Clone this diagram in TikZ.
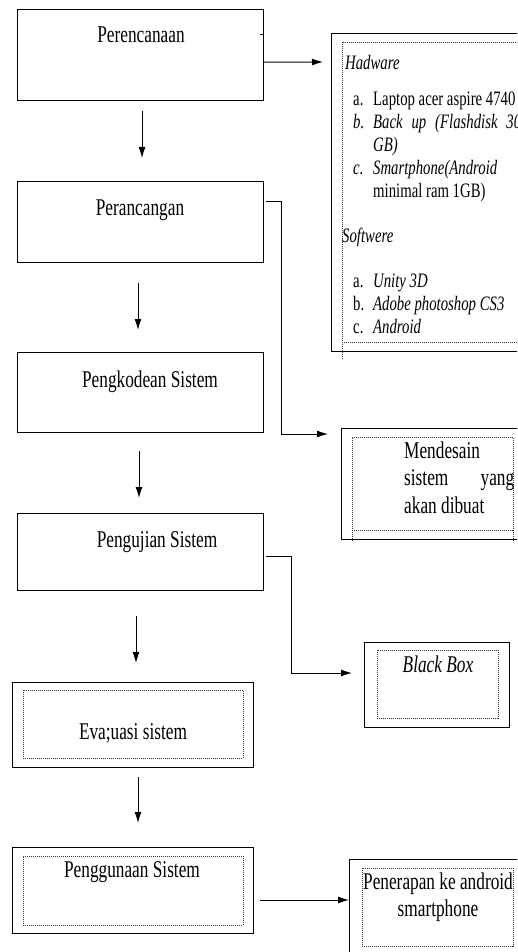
\documentclass[tikz,border=0pt]{standalone}
\usepackage{fontspec}
\setmainfont{Liberation Serif}[FakeStretch=0.72]
\usetikzlibrary{arrows.meta}
\begin{document}
\begin{tikzpicture}%
	[x=1pt,y=-1pt,
	box/.style={draw=black, line width=1pt, inner sep=0pt, outer sep=0pt},
	innerbox/.style={draw=black!80, line width=0.7pt, dash pattern=on 1pt off 1pt, inner sep=0pt, outer sep=0pt},
	dotline/.style={draw=black!80, line width=0.7pt, dash pattern=on 1pt off 1pt},
	flow/.style={line width=1pt, -{Latex[length=11pt,width=7pt]}},
	boxtext/.style={font=\fontsize{24}{27.5}\selectfont, inner sep=0pt, anchor=base},
	listtext/.style={font=\fontsize{20.5}{23}\selectfont, inner sep=0pt, anchor=base west}]
	\useasboundingbox (0,0) rectangle (517,952);
	\clip (0,0) rectangle (517,952);

	%main steps
	\node[box, minimum width=246pt, minimum height=91.5pt] (perencanaan) at (140,55.25) {};
	\node[box, minimum width=246pt, minimum height=80pt] (perancangan) at (140,222) {};
	\node[box, minimum width=246pt, minimum height=80pt] (pengkodean) at (140,392) {};
	\node[box, minimum width=246pt, minimum height=77pt] (pengujian) at (140,551.5) {};
	\node[box, minimum width=241pt, minimum height=85pt] (evaluasi) at (132.5,724.5) {};
	\node[innerbox, minimum width=220pt, minimum height=68pt] (evaluasi-in) at (133,724) {};
	\node[box, minimum width=241pt, minimum height=86pt] (penggunaan) at (132.5,890) {};
	\node[innerbox, minimum width=220pt, minimum height=69pt] (penggunaan-in) at (133,890.5) {};

	\node[boxtext] (perencanaan-t) at (141,43) {Perencanaan};
	\node[boxtext] (perancangan-t) at (140,215) {Perancangan};
	\node[boxtext] (pengkodean-t) at (150,387) {Pengkodean Sistem};
	\node[boxtext] (pengujian-t) at (157,547) {Pengujian Sistem};
	\node[boxtext] (evaluasi-t) at (133,739) {Eva;uasi sistem};
	\node[boxtext] (penggunaan-t) at (132,877) {Penggunaan Sistem};

	%side boxes
	\node[box, minimum width=209pt, minimum height=317pt] (hardware) at (435.5,192.5) {};
	\node[innerbox, minimum width=198pt, minimum height=300pt] (hardware-in) at (441,192) {};
	\draw[dotline] (hardware-in.south west) -- ++(0,18);
	\node[listtext] (hardware-t) at (342,70) {%
		\begin{tabular}[t]{@{\hspace{11pt}}p{20pt}@{}l@{}}
		\multicolumn{2}{@{\hspace{3pt}}l@{}}{\textit{Hadware}}\\[13pt]
		a. & Laptop acer aspire 4740\\
		\textit{b.} & \makebox[148pt][s]{\textit{Back up (Flashdisk 30}}\\
		 & \textit{GB)}\\
		\textit{c.} & \textit{Smartphone(Android}\\
		 & minimal ram 1GB)\\[22pt]
		\multicolumn{2}{@{}l@{}}{\textit{Softwere}}\\[22pt]
		a. & \textit{Unity 3D}\\
		b. & \textit{Adobe photoshop CS3}\\
		c. & \textit{Android}
		\end{tabular}};

	\node[box, minimum width=189pt, minimum height=111pt] (mendesain) at (435.5,483.5) {};
	\node[innerbox, minimum width=161pt, minimum height=93pt] (mendesain-in) at (432.5,483.5) {};
	\draw[dotline] (mendesain-in.south west) -- ++(0,12);
	\draw[dotline] (mendesain-in.south east) -- ++(0,12);
	\node[boxtext, anchor=base west] (mendesain-t) at (404,458) {%
		\begin{tabular}[t]{@{}l@{}}
		Mendesain\\
		\makebox[110pt][s]{sistem yang}\\
		akan dibuat
		\end{tabular}};

	\node[box, minimum width=145pt, minimum height=85pt] (blackbox) at (436.5,684.5) {};
	\node[innerbox, minimum width=121pt, minimum height=68pt] (blackbox-in) at (437.5,684) {};
	\node[boxtext] (blackbox-t) at (438,672) {\textit{Black Box}};

	\node[box, minimum width=181pt, minimum height=111pt] (penerapan) at (439.5,914.5) {};
	\node[innerbox, minimum width=151pt, minimum height=78pt] (penerapan-in) at (437.5,907) {};
	\node[boxtext] (penerapan-t) at (438,889) {%
		\begin{tabular}[t]{@{}c@{}}
		Penerapan ke android\\
		smartphone
		\end{tabular}};

	%down arrows
	\draw[flow, shorten <=10pt, shorten >=24pt] ([xshift=2pt]perencanaan.south) -- ([xshift=2pt]perancangan.north);
	\draw[flow, shorten <=21pt, shorten >=22pt] ([xshift=-2pt]perancangan.south) -- ([xshift=-2pt]pengkodean.north);
	\draw[flow, shorten <=19pt, shorten >=15pt] ([xshift=-1pt]pengkodean.south) -- ([xshift=-1pt]pengujian.north);
	\draw[flow, shorten <=26pt, shorten >=19pt] ([xshift=-4pt]pengujian.south) -- ([xshift=3.5pt]evaluasi.north);
	\draw[flow, shorten <=10pt, shorten >=24pt] ([xshift=5.5pt]evaluasi.south) -- ([xshift=5.5pt]penggunaan.north);

	%side arrows
	\draw[line width=1pt] ([xshift=-3pt,yshift=21pt]perencanaan.east) -- ([yshift=21pt]perencanaan.east);
	\draw[flow] ([yshift=-7pt]perencanaan.east) -- ([xshift=-8pt,yshift=130.5pt]hardware.west);
	\draw[flow] ([xshift=3pt,yshift=21pt]perancangan.east) -- ++(15,0) |- ([xshift=-13pt,yshift=-6pt]mendesain.north west);
	\draw[flow] ([xshift=3pt,yshift=-4.5pt]pengujian.east) -- ++(25,0) |- ([xshift=-12pt,yshift=11.5pt]blackbox.west);
	\draw[flow] ([xshift=7pt,yshift=-10pt]penggunaan.east) -- ([yshift=14.5pt]penerapan.west);
\end{tikzpicture}
\end{document}
